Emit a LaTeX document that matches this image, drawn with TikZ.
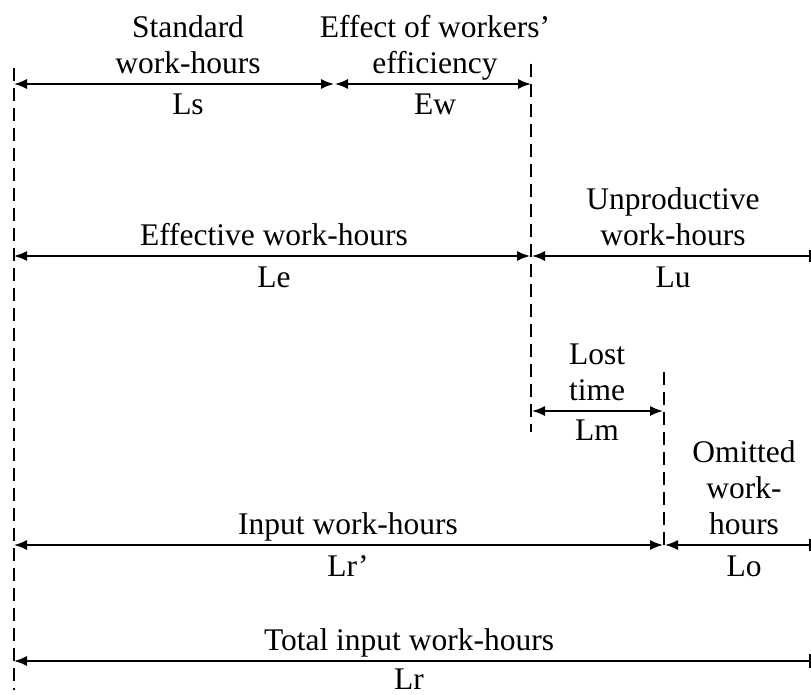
\documentclass[tikz,border=0pt]{standalone}
\usepackage{fontspec}
\setmainfont{Liberation Serif}
\usetikzlibrary{arrows.meta}
\begin{document}
\begin{tikzpicture}[x=1pt,y=-1pt,
  tip/.tip={Latex[length=13pt,width=10pt]},
  dimboth/.style={line width=1.6pt,{tip}-{tip}},
  dimleft/.style={line width=1.6pt,{tip}-},
  guide/.style={line width=1.8pt,dash pattern=on 13pt off 7pt},
  endbar/.style={line width=1.6pt},
  lblup/.style={anchor=south,inner sep=0pt,text depth=0pt,align=center,font=\fontsize{31.5}{36}\selectfont},
  lbldn/.style={anchor=base,inner sep=0pt,font=\fontsize{31.5}{36}\selectfont}]
\useasboundingbox (0,0) rectangle (811,695);

% guide lines
\coordinate (gA1) at (14,68);  \coordinate (gA2) at (14,690);
\coordinate (gB1) at (531,64); \coordinate (gB2) at (531,432);
\coordinate (gC1) at (664,372);\coordinate (gC2) at (664,548);
\draw[guide] (gA1) -- (gA2);
\draw[guide] (gB1) -- (gB2);
\draw[guide] (gC1) -- (gC2);

% row 1
\coordinate (r1a) at (14,84); \coordinate (r1b) at (334,84);
\coordinate (r1c) at (335,84); \coordinate (r1d) at (531,84);
\draw[dimboth] (r1a) -- (r1b);
\draw[dimboth] (r1c) -- (r1d);
\node[lblup] (tStd) at (188,74) {Standard\\work-hours};
\node[lbldn] (tLs) at (188,115) {Ls};
\node[lblup] (tEff) at (435,74) {Effect of workers’\\efficiency};
\node[lbldn] (tEw) at (435,115) {Ew};

% row 2
\coordinate (r2a) at (14,256); \coordinate (r2b) at (530,256);
\coordinate (r2c) at (532,256); \coordinate (r2d) at (810,256);
\draw[dimboth] (r2a) -- (r2b);
\draw[dimleft] (r2c) -- (r2d);
\draw[endbar] ([yshift=-6pt]r2d) -- ([yshift=6pt]r2d);
\node[lblup] (tEffw) at (274,246) {Effective work-hours};
\node[lbldn] (tLe) at (274,287) {Le};
\node[lblup] (tUnp) at (673,246) {Unproductive\\work-hours};
\node[lbldn] (tLu) at (673,287) {Lu};

% row 3
\coordinate (r3a) at (532,411); \coordinate (r3b) at (663,411);
\draw[dimboth] (r3a) -- (r3b);
\node[lblup] (tLost) at (597,401) {Lost\\time};
\node[lbldn] (tLm) at (597,440) {Lm};

% row 4
\coordinate (r4a) at (14,545); \coordinate (r4b) at (663,545);
\coordinate (r4c) at (665,545); \coordinate (r4d) at (810,545);
\draw[dimboth] (r4a) -- (r4b);
\draw[dimleft] (r4c) -- (r4d);
\draw[endbar] ([yshift=-6pt]r4d) -- ([yshift=6pt]r4d);
\node[lblup] (tInp) at (348,535) {Input work-hours};
\node[lbldn] (tLrp) at (348,576) {Lr’};
\node[lblup] (tOmit) at (744,535) {Omitted\\work-\\hours};
\node[lbldn] (tLo) at (744,576) {Lo};

% row 5
\coordinate (r5a) at (14,661); \coordinate (r5b) at (810,661);
\draw[dimleft] (r5a) -- (r5b);
\draw[endbar] ([yshift=-7pt]r5b) -- ([yshift=7pt]r5b);
\node[lblup] (tTot) at (409,651) {Total input work-hours};
\node[lbldn] (tLr) at (409,689) {Lr};
\end{tikzpicture}
\end{document}
